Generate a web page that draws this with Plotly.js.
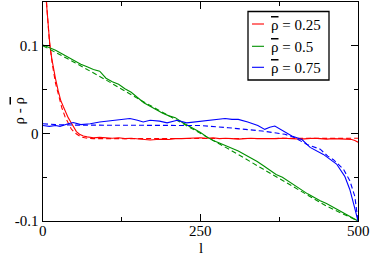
<!DOCTYPE html>
<html>
<head>
<meta charset="utf-8">
<script src="https://cdn.plot.ly/plotly-3.0.1.min.js"></script>
<style>html,body{margin:0;padding:0;background:#fff;}#chart{width:374px;height:255px;}</style>
</head>
<body>
<div id="chart"></div>
<script>
// ---- data ----
const rhoBarLabels = ['0.25', '0.5', '0.75'];
const seriesColors = ['#ff0000', '#009000', '#0000ff'];

// rho_bar = 0.25, simulation (solid)
const redSolidL = [0,2,5,8,11,14,17,20,24,28,32,36,40,44,48,53,58,64,70,80,90,100,110,120,130,140,150,160,170,180,190,200,210,220,230,240,250,260,270,280,290,300,310,320,330,340,350,360,370,380,390,400,410,420,430,440,450,460,470,480,490,495,500];
const redSolidV = [0.26,0.2,0.153,0.125,0.10,0.085,0.072,0.062,0.049,0.038,0.031,0.024,0.018,0.013,0.008,0.002,-0.001,-0.003,-0.004,-0.005,-0.0045,-0.005,-0.0055,-0.005,-0.006,-0.0055,-0.006,-0.007,-0.0075,-0.007,-0.0065,-0.007,-0.006,-0.006,-0.0055,-0.005,-0.005,-0.0055,-0.005,-0.006,-0.0055,-0.006,-0.0065,-0.006,-0.0055,-0.006,-0.006,-0.0065,-0.006,-0.0055,-0.006,-0.006,-0.0065,-0.006,-0.0055,-0.006,-0.0065,-0.006,-0.006,-0.0065,-0.007,-0.008,-0.010];
// rho_bar = 0.25, theory (dashed)
const redDashL = [0,3,6,10,15,20,25,30,35,40,45,50,55,60,70,80,100,150,200,250,300,350,400,450,500];
const redDashV = [0.25,0.19,0.145,0.106,0.078,0.057,0.042,0.029,0.019,0.011,0.005,0.001,-0.002,-0.004,-0.0055,-0.006,-0.006,-0.006,-0.006,-0.006,-0.0058,-0.0058,-0.0056,-0.0056,-0.0056];

// rho_bar = 0.5
const greenSolidL = [0,10,20,30,40,50,60,70,80,90,100,110,120,130,140,150,160,170,180,190,200,210,220,230,240,250,260,270,280,290,300,310,320,330,340,350,360,370,380,390,400,410,420,430,440,450,460,470,480,490,500];
const greenSolidV = [0.101,0.098,0.095,0.091,0.087,0.083,0.079,0.076,0.073,0.071,0.063,0.059,0.056,0.051,0.047,0.041,0.035,0.031,0.027,0.023,0.020,0.018,0.013,0.009,0.005,0.001,-0.004,-0.008,-0.011,-0.014,-0.017,-0.020,-0.024,-0.028,-0.032,-0.037,-0.042,-0.047,-0.050,-0.055,-0.060,-0.064,-0.069,-0.073,-0.077,-0.080,-0.084,-0.088,-0.092,-0.096,-0.100];
const greenDashL = [0,50,100,150,200,250,300,350,400,450,500];
const greenDashV = [0.100,0.081,0.061,0.040,0.020,0.000,-0.020,-0.041,-0.062,-0.083,-0.100];

// rho_bar = 0.75
const blueSolidL = [0,10,20,27,40,48,60,75,90,101,115,125,138,150,159,170,185,197,213,228,241,257,270,289,300,310,325,341,352,360,368,379,395,411,424,445,466,479,487,494,500];
const blueSolidV = [0.009,0.008,0.009,0.008,0.011,0.0125,0.010,0.011,0.013,0.014,0.015,0.016,0.017,0.015,0.013,0.015,0.014,0.012,0.015,0.012,0.013,0.014,0.015,0.017,0.016,0.016,0.013,0.009,0.0046,0.007,0.0084,0.004,-0.003,-0.007,-0.016,-0.024,-0.035,-0.049,-0.064,-0.083,-0.100];
const blueDashL = [0,20,50,100,150,200,250,294,320,348,384,400,419,427,440,452,461,477,487,495,500];
const blueDashV = [0.011,0.010,0.0095,0.0095,0.0095,0.0095,0.009,0.0065,0.0048,0.0027,-0.001,-0.005,-0.0126,-0.0145,-0.018,-0.026,-0.030,-0.041,-0.054,-0.072,-0.100];

// axis ticks
const xTickVals = [0, 250, 500];
const xTickText = ['0', '250', '500'];
const yTickVals = [-0.1, 0, 0.1];
const yTickText = ['-0.1', '0', '0.1'];
const xTitle = 'l';

// ---- build ----
const FONT = '"Liberation Serif", "DejaVu Serif", serif';
const OL = s => '<span style="text-decoration:overline">' + s + '</span>';

function tr(x, y, color, dash, name) {
  return {x: x, y: y, type: 'scatter', mode: 'lines', name: name, showlegend: false,
          line: {color: color, width: 1.1, dash: dash}, hoverinfo: 'skip'};
}
const traces = [
  tr(redSolidL, redSolidV, seriesColors[0], 'solid', rhoBarLabels[0]),
  tr(redDashL, redDashV, seriesColors[0], '5px,3px', rhoBarLabels[0] + ' theory'),
  tr(greenSolidL, greenSolidV, seriesColors[1], 'solid', rhoBarLabels[1]),
  tr(greenDashL, greenDashV, seriesColors[1], '5px,3px', rhoBarLabels[1] + ' theory'),
  tr(blueSolidL, blueSolidV, seriesColors[2], 'solid', rhoBarLabels[2]),
  tr(blueDashL, blueDashV, seriesColors[2], '5px,3px', rhoBarLabels[2] + ' theory')
];

const W = 374, H = 255, ML = 43, MR = 16, MT = 2, MB = 34;
const PW = W - ML - MR, PH = H - MT - MB;
const px = x => (x - ML) / PW;
const py = y => (H - MB - y) / PH;
const TXT = {family: FONT, size: 15, color: '#000'};

const shapes = [{type: 'rect', xref: 'paper', yref: 'paper', x0: px(248), x1: px(329), y0: py(80), y1: py(11.5),
                 line: {color: '#000', width: 1.3}, fillcolor: '#fff'}];
const annotations = [{
  xref: 'paper', yref: 'paper', x: px(18), y: 0.5, xanchor: 'center', yanchor: 'middle',
  textangle: -90, showarrow: false, text: 'ρ - ' + OL('ρ'), font: TXT, borderpad: 0
}, {
  xref: 'paper', yref: 'paper', x: 0.5, y: py(248.5), xanchor: 'center', yanchor: 'middle',
  showarrow: false, text: xTitle, font: TXT, borderpad: 0
}];
// x tick labels placed at the data positions of the x axis
xTickVals.forEach((v, i) => {
  annotations.push({xref: 'x', yref: 'paper', x: v, y: py(230.5), xanchor: 'center', yanchor: 'middle',
                    showarrow: false, text: xTickText[i], font: TXT, borderpad: 0});
});
const legY = [24, 46.3, 67.3];
rhoBarLabels.forEach((lab, i) => {
  shapes.push({type: 'line', xref: 'paper', yref: 'paper', x0: px(252), x1: px(264), y0: py(legY[i]), y1: py(legY[i]),
               line: {color: seriesColors[i], width: 1.1}});
  annotations.push({xref: 'paper', yref: 'paper', x: px(270), y: py(legY[i] + 1), xanchor: 'left', yanchor: 'middle',
                    showarrow: false, text: OL('ρ') + ' = ' + lab, font: TXT, borderpad: 0});
});

const axisCommon = {
  showgrid: false, zeroline: false, showline: true, linecolor: '#000', linewidth: 1.4, mirror: 'ticks',
  ticks: 'inside', ticklen: 7, tickwidth: 1.2, tickcolor: '#000', tickmode: 'array',
  tickfont: TXT
};
const layout = {
  width: W, height: H, margin: {l: ML, r: MR, t: MT, b: MB}, paper_bgcolor: '#fff', plot_bgcolor: '#fff',
  font: TXT,
  showlegend: false,
  xaxis: Object.assign({}, axisCommon, {range: [0, 500], tickvals: xTickVals, ticktext: xTickText,
    showticklabels: false,
    minor: {tickvals: [125, 375], ticks: 'inside', ticklen: 4, tickwidth: 1.2, tickcolor: '#000'}}),
  yaxis: Object.assign({}, axisCommon, {range: [-0.1, 0.15], tickvals: yTickVals, ticktext: yTickText,
    minor: {tickvals: [-0.05, 0.05], ticks: 'inside', ticklen: 4, tickwidth: 1.2, tickcolor: '#000'}}),
  shapes: shapes, annotations: annotations
};
Plotly.newPlot('chart', traces, layout, {staticPlot: true, displayModeBar: false});
</script>
</body>
</html>
